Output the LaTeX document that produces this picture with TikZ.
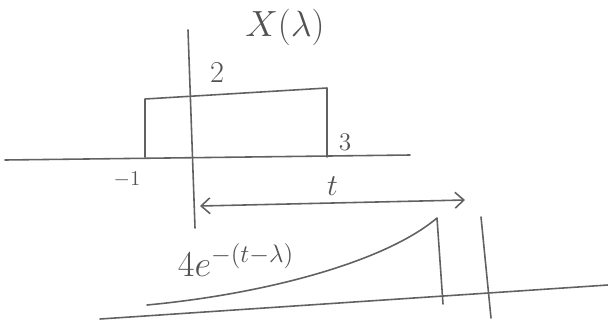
\documentclass[tikz,border=0pt]{standalone}
\usepackage{amsmath}
\usepackage{tikz}
\usetikzlibrary{arrows.meta,positioning}

\begin{document}
\begin{tikzpicture}[
  x=0.02cm, y=-0.02cm,
  pencil/.style={draw=black!62, line width=0.9pt, line cap=round, line join=round},
  lbl/.style={text=black!68, inner sep=0pt},
  span/.style={{Straight Barb[length=5pt,width=9pt]}-{Straight Barb[length=5pt,width=9pt]}, pencil}
]
  \useasboundingbox (0,0) rectangle (608,325);
  % upper sketch: the pulse x(lambda)
  \coordinate (axL) at (5,160);
  \coordinate (axR) at (410,155);
  \coordinate (vaxT) at (188,30);
  \coordinate (vaxB) at (195,228);
  \coordinate (rectBL) at (145,157);
  \coordinate (rectTL) at (145,99);
  \coordinate (rectTR) at (327,88);
  \coordinate (rectBR) at (327,157);
  \draw[pencil] (axL) -- (axR);
  \draw[pencil] (vaxT) -- (vaxB);
  \draw[pencil] (rectBL) -- (rectTL) -- (rectTR) -- (rectBR);
  \node[lbl, font=\huge] (xlam) at (285,27) {$X(\lambda)$};
  \node[lbl, font=\LARGE] (two) at (217,73) {$2$};
  \node[lbl, font=\Large] (three) at (345,142) {$3$};
  \node[lbl, font=\large] (mone) at (127,180) {$-1$};
  % span t
  \coordinate (spanL) at (200,206);
  \coordinate (spanR) at (465,200);
  \draw[span] (spanL) -- node[lbl, font=\LARGE, above=4pt] (tlab) {$t$} (spanR);
  % lower sketch: the weight 4e^{-(t-lambda)}
  \coordinate (baseL) at (100,319);
  \coordinate (baseR) at (608,285);
  \coordinate (curveS) at (147,305);
  \coordinate (curveE) at (437,218);
  \coordinate (dropB) at (443,304);
  \coordinate (markT) at (481,217);
  \coordinate (markB) at (491,318);
  \draw[pencil] (baseL) -- (baseR);
  \draw[pencil] (curveS) .. controls (265,294) and (385,262) .. (curveE) -- (dropB);
  \draw[pencil] (markT) -- (markB);
  \node[lbl, font=\huge] (weight) at (236,260) {$4e^{-(t-\lambda)}$};
\end{tikzpicture}
\end{document}
